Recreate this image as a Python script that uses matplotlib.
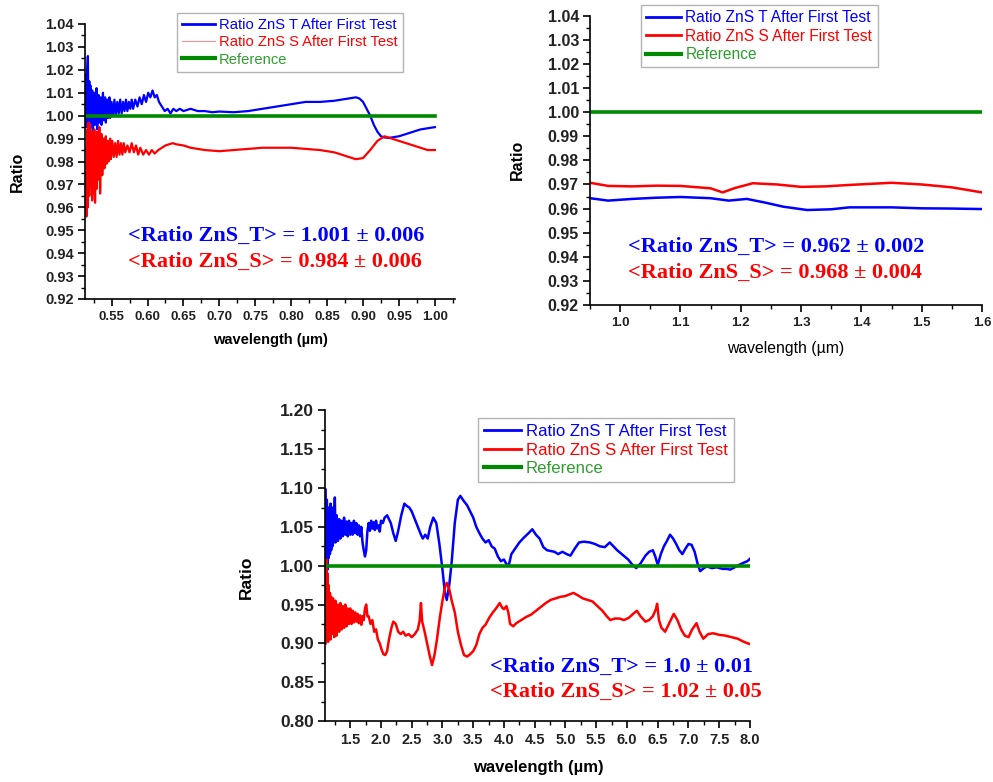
import matplotlib.pyplot as plt
from matplotlib.ticker import MultipleLocator, FormatStrFormatter

plt.rcParams['font.family'] = ['Liberation Sans', 'DejaVu Sans']

BLUE = '#0000ff'
RED = '#ff0000'
GREEN = '#008a00'

LABEL_T = 'Ratio ZnS T After First Test'
LABEL_S = 'Ratio ZnS S After First Test'
LABEL_REF = 'Reference'

# ---- panel 1 : 0.51 - 1.00 um ----
vis_t_x = [0.514, 0.515, 0.516, 0.517, 0.518, 0.519, 0.520, 0.521, 0.522, 0.523,
           0.524, 0.526, 0.527, 0.529, 0.530, 0.532, 0.533, 0.535, 0.536, 0.538,
           0.539, 0.541, 0.542, 0.544, 0.545, 0.547, 0.548, 0.550, 0.552, 0.554,
           0.556, 0.558, 0.560, 0.562, 0.564, 0.566, 0.568, 0.570, 0.572, 0.574,
           0.576, 0.578, 0.580, 0.583, 0.586, 0.589, 0.592, 0.595, 0.598, 0.601,
           0.604, 0.607, 0.610, 0.613, 0.616, 0.620, 0.624, 0.628, 0.632, 0.636,
           0.640, 0.645, 0.650, 0.660, 0.670, 0.680, 0.690, 0.700, 0.720, 0.740,
           0.760, 0.780, 0.800, 0.820, 0.840, 0.860, 0.880, 0.890, 0.895, 0.900,
           0.905, 0.910, 0.915, 0.920, 0.925, 0.930, 0.935, 0.940, 0.950, 0.960,
           0.970, 0.980, 0.990, 1.000]
vis_t_y = [1.018, 0.995, 1.020, 1.026, 0.992, 1.015, 0.990, 1.013, 0.995, 1.011,
           0.992, 1.010, 0.996, 1.012, 0.994, 1.009, 0.997, 1.008, 0.996, 1.010,
           0.998, 1.008, 0.997, 1.007, 0.999, 1.008, 0.999, 1.006, 1.000, 1.007,
           1.000, 1.006, 1.001, 1.007, 1.001, 1.006, 1.002, 1.007, 1.002, 1.006,
           1.003, 1.007, 1.003, 1.007, 1.004, 1.008, 1.005, 1.009, 1.006, 1.010,
           1.008, 1.011, 1.008, 1.009, 1.006, 1.004, 1.002, 1.003, 1.001, 1.003,
           1.002, 1.003, 1.002, 1.003, 1.002, 1.002, 1.0015, 1.0018, 1.0015, 1.002,
           1.003, 1.004, 1.005, 1.006, 1.006, 1.0065, 1.0075, 1.008, 1.0075, 1.006,
           1.003, 1.000, 0.996, 0.993, 0.991, 0.9905, 0.9903, 0.9905, 0.991, 0.992,
           0.993, 0.994, 0.9945, 0.995]

vis_s_x = [0.514, 0.515, 0.516, 0.517, 0.518, 0.519, 0.520, 0.521, 0.522, 0.523,
           0.524, 0.525, 0.526, 0.527, 0.528, 0.529, 0.530, 0.531, 0.533, 0.534,
           0.536, 0.537, 0.539, 0.540, 0.542, 0.543, 0.545, 0.546, 0.548, 0.549,
           0.551, 0.553, 0.555, 0.557, 0.559, 0.561, 0.563, 0.565, 0.567, 0.569,
           0.572, 0.575, 0.578, 0.581, 0.584, 0.587, 0.590, 0.594, 0.598, 0.602,
           0.606, 0.610, 0.615, 0.620, 0.625, 0.630, 0.635, 0.640, 0.650, 0.660,
           0.670, 0.680, 0.700, 0.720, 0.740, 0.760, 0.780, 0.800, 0.820, 0.840,
           0.860, 0.875, 0.890, 0.900, 0.910, 0.920, 0.930, 0.940, 0.950, 0.960,
           0.970, 0.980, 0.990, 1.000]
vis_s_y = [0.975, 0.956, 0.994, 0.960, 0.997, 0.965, 0.996, 0.970, 0.992, 0.963,
           0.993, 0.966, 0.994, 0.962, 0.991, 0.968, 0.993, 0.972, 0.995, 0.966,
           0.992, 0.974, 0.990, 0.977, 0.991, 0.979, 0.989, 0.980, 0.990, 0.981,
           0.989, 0.982, 0.988, 0.982, 0.989, 0.983, 0.988, 0.983, 0.988, 0.984,
           0.987, 0.984, 0.988, 0.984, 0.987, 0.983, 0.986, 0.983, 0.985, 0.983,
           0.985, 0.9835, 0.985, 0.986, 0.987, 0.9875, 0.988, 0.9875, 0.987, 0.986,
           0.9855, 0.985, 0.9845, 0.985, 0.9855, 0.986, 0.986, 0.986, 0.9855, 0.985,
           0.984, 0.9825, 0.981, 0.9815, 0.985, 0.989, 0.991, 0.990, 0.989, 0.988,
           0.987, 0.986, 0.985, 0.985]

vis_ref_x = [0.514, 1.000]
vis_ref_y = [1.0, 1.0]

# ---- panel 2 : 0.95 - 1.6 um ----
nir_t_x = [0.95, 0.98, 1.02, 1.06, 1.10, 1.15, 1.18, 1.21, 1.24, 1.27,
           1.31, 1.35, 1.38, 1.45, 1.50, 1.55, 1.60]
nir_t_y = [0.9643, 0.9633, 0.9640, 0.9645, 0.9648, 0.9643, 0.9633, 0.9640, 0.9625, 0.9608,
           0.9594, 0.9597, 0.9605, 0.9605, 0.9601, 0.9600, 0.9598]

nir_s_x = [0.95, 0.98, 1.02, 1.06, 1.10, 1.15, 1.17, 1.19, 1.22, 1.26,
           1.30, 1.34, 1.38, 1.45, 1.50, 1.55, 1.60]
nir_s_y = [0.9707, 0.9694, 0.9692, 0.9695, 0.9694, 0.9684, 0.9667, 0.9685, 0.9705, 0.9700,
           0.9690, 0.9692, 0.9698, 0.9707, 0.9700, 0.9688, 0.9667]

nir_ref_x = [0.95, 1.60]
nir_ref_y = [1.0, 1.0]

# ---- panel 3 : 1.1 - 8.0 um ----
mir_t_x = [1.10, 1.11, 1.12, 1.13, 1.14, 1.15, 1.16, 1.17, 1.18, 1.19,
           1.20, 1.21, 1.22, 1.23, 1.24, 1.25, 1.26, 1.28, 1.30, 1.32,
           1.34, 1.36, 1.38, 1.40, 1.42, 1.44, 1.46, 1.48, 1.50, 1.52,
           1.54, 1.56, 1.58, 1.60, 1.62, 1.64, 1.66, 1.68, 1.70, 1.72,
           1.74, 1.76, 1.78, 1.80, 1.82, 1.84, 1.86, 1.88, 1.90, 1.92,
           1.94, 1.96, 1.98, 2.00, 2.03, 2.06, 2.10, 2.13, 2.16, 2.20,
           2.24, 2.28, 2.33, 2.38, 2.42, 2.46, 2.50, 2.55, 2.60, 2.65,
           2.68, 2.72, 2.76, 2.80, 2.85, 2.90, 2.95, 3.00, 3.04, 3.07,
           3.11, 3.15, 3.20, 3.25, 3.29, 3.35, 3.40, 3.45, 3.50, 3.55,
           3.60, 3.65, 3.70, 3.75, 3.80, 3.85, 3.90, 3.95, 4.00, 4.04,
           4.08, 4.12, 4.18, 4.25, 4.32, 4.40, 4.46, 4.52, 4.58, 4.64,
           4.70, 4.76, 4.82, 4.88, 4.95, 5.02, 5.08, 5.15, 5.22, 5.30,
           5.40, 5.48, 5.56, 5.64, 5.72, 5.78, 5.84, 5.90, 5.96, 6.02,
           6.08, 6.15, 6.22, 6.30, 6.36, 6.42, 6.46, 6.50, 6.55, 6.60,
           6.65, 6.70, 6.75, 6.80, 6.85, 6.90, 6.95, 7.00, 7.05, 7.10,
           7.15, 7.19, 7.25, 7.30, 7.38, 7.46, 7.55, 7.62, 7.68, 7.75,
           7.82, 7.90, 7.96, 8.00]
mir_t_y = [1.098, 1.000, 1.085, 0.995, 1.075, 1.010, 1.070, 1.015, 1.080, 1.020,
           1.065, 1.025, 1.075, 1.030, 1.060, 1.088, 1.030, 1.065, 1.032, 1.060,
           1.035, 1.058, 1.038, 1.062, 1.040, 1.057, 1.038, 1.058, 1.040, 1.055,
           1.040, 1.058, 1.042, 1.055, 1.040, 1.052, 1.038, 1.050, 1.030, 1.020,
           1.012, 1.020, 1.045, 1.055, 1.045, 1.058, 1.048, 1.056, 1.046, 1.058,
           1.048, 1.052, 1.044, 1.058, 1.055, 1.062, 1.065, 1.060, 1.055, 1.042,
           1.032, 1.045, 1.065, 1.080, 1.077, 1.075, 1.070, 1.060, 1.050, 1.040,
           1.035, 1.040, 1.035, 1.050, 1.062, 1.055, 1.028, 0.995, 0.965, 0.956,
           0.975, 1.005, 1.055, 1.085, 1.090, 1.083, 1.078, 1.070, 1.062, 1.050,
           1.042, 1.035, 1.030, 1.033, 1.025, 1.022, 1.012, 1.006, 1.008, 1.002,
           1.001, 1.015, 1.022, 1.030, 1.036, 1.042, 1.047, 1.040, 1.035, 1.024,
           1.020, 1.019, 1.018, 1.015, 1.018, 1.015, 1.013, 1.022, 1.030, 1.031,
           1.030, 1.028, 1.025, 1.024, 1.030, 1.025, 1.020, 1.016, 1.012, 1.008,
           1.002, 0.997, 1.003, 1.013, 1.018, 1.020, 1.012, 1.001, 1.015, 1.025,
           1.032, 1.040, 1.035, 1.028, 1.020, 1.015, 1.022, 1.028, 1.027, 1.018,
           1.002, 0.993, 0.997, 0.999, 0.997, 0.998, 0.996, 0.996, 0.995, 0.998,
           1.001, 1.004, 1.006, 1.009]

mir_s_x = [1.10, 1.11, 1.12, 1.13, 1.14, 1.15, 1.16, 1.17, 1.18, 1.19,
           1.20, 1.22, 1.24, 1.26, 1.28, 1.30, 1.32, 1.34, 1.36, 1.38,
           1.40, 1.42, 1.44, 1.46, 1.48, 1.50, 1.52, 1.54, 1.56, 1.58,
           1.60, 1.62, 1.64, 1.66, 1.68, 1.70, 1.72, 1.74, 1.76, 1.78,
           1.80, 1.83, 1.86, 1.89, 1.92, 1.95, 1.98, 2.01, 2.04, 2.07,
           2.10, 2.13, 2.17, 2.20, 2.24, 2.28, 2.32, 2.36, 2.40, 2.45,
           2.50, 2.55, 2.60, 2.63, 2.65, 2.67, 2.71, 2.75, 2.79, 2.83,
           2.87, 2.91, 2.96, 3.00, 3.04, 3.07, 3.11, 3.15, 3.20, 3.25,
           3.30, 3.35, 3.40, 3.45, 3.50, 3.55, 3.60, 3.65, 3.70, 3.76,
           3.82, 3.88, 3.93, 3.97, 4.00, 4.04, 4.07, 4.10, 4.15, 4.20,
           4.28, 4.36, 4.44, 4.52, 4.60, 4.68, 4.76, 4.84, 4.92, 5.00,
           5.06, 5.13, 5.20, 5.28, 5.36, 5.44, 5.52, 5.60, 5.67, 5.73,
           5.80, 5.88, 5.95, 6.03, 6.10, 6.16, 6.22, 6.30, 6.36, 6.42,
           6.47, 6.49, 6.52, 6.56, 6.62, 6.68, 6.76, 6.82, 6.88, 6.94,
           7.00, 7.06, 7.13, 7.18, 7.24, 7.32, 7.40, 7.50, 7.60, 7.70,
           7.80, 7.90, 8.00]
mir_s_y = [0.900, 1.008, 0.905, 0.990, 0.902, 0.975, 0.910, 0.965, 0.905, 0.960,
           0.912, 0.958, 0.908, 0.955, 0.910, 0.950, 0.915, 0.952, 0.918, 0.948,
           0.920, 0.950, 0.922, 0.945, 0.925, 0.945, 0.925, 0.942, 0.927, 0.940,
           0.928, 0.938, 0.926, 0.936, 0.924, 0.935, 0.930, 0.945, 0.950, 0.935,
           0.935, 0.925, 0.930, 0.915, 0.918, 0.905, 0.900, 0.892, 0.886, 0.885,
           0.890, 0.905, 0.920, 0.928, 0.925, 0.915, 0.912, 0.915, 0.910, 0.912,
           0.908, 0.912, 0.918, 0.930, 0.952, 0.928, 0.915, 0.900, 0.885, 0.872,
           0.885, 0.905, 0.935, 0.955, 0.972, 0.978, 0.970, 0.955, 0.940, 0.915,
           0.898, 0.885, 0.883, 0.886, 0.890, 0.898, 0.912, 0.920, 0.924, 0.933,
           0.940, 0.946, 0.952, 0.946, 0.944, 0.948, 0.940, 0.925, 0.922, 0.926,
           0.930, 0.934, 0.937, 0.942, 0.947, 0.952, 0.956, 0.958, 0.960, 0.961,
           0.963, 0.965, 0.962, 0.958, 0.956, 0.954, 0.948, 0.942, 0.935, 0.930,
           0.932, 0.932, 0.930, 0.933, 0.938, 0.942, 0.935, 0.928, 0.930, 0.935,
           0.944, 0.951, 0.930, 0.920, 0.915, 0.925, 0.938, 0.930, 0.918, 0.910,
           0.908, 0.918, 0.926, 0.915, 0.906, 0.912, 0.913, 0.911, 0.910, 0.908,
           0.906, 0.902, 0.899]

mir_ref_x = [1.10, 8.00]
mir_ref_y = [1.0, 1.0]

W, H = 993, 782


def style_axes(ax, xlim, ylim, xmaj, xmin, ymaj, ymin, xfmt, xfs, yfs):
    ax.set_xlim(*xlim)
    ax.set_ylim(*ylim)
    ax.spines['top'].set_visible(False)
    ax.spines['right'].set_visible(False)
    for s in ('left', 'bottom'):
        ax.spines[s].set_linewidth(1.2)
    ax.xaxis.set_major_locator(MultipleLocator(xmaj))
    ax.xaxis.set_minor_locator(MultipleLocator(xmin))
    ax.yaxis.set_major_locator(MultipleLocator(ymaj))
    ax.yaxis.set_minor_locator(MultipleLocator(ymin))
    ax.xaxis.set_major_formatter(FormatStrFormatter(xfmt))
    ax.yaxis.set_major_formatter(FormatStrFormatter('%.2f'))
    ax.tick_params(which='major', direction='out', length=5, width=1.2)
    ax.tick_params(which='minor', direction='out', length=3, width=1.0)
    ax.tick_params(axis='x', labelsize=xfs, pad=4)
    ax.tick_params(axis='y', labelsize=yfs, pad=3)
    for lab in ax.get_xticklabels() + ax.get_yticklabels():
        lab.set_fontweight('bold')
        lab.set_color('#222222')


def add_legend(ax, anchor, fs):
    leg = ax.legend(loc='upper left', bbox_to_anchor=anchor, bbox_transform=fig.transFigure,
                    fontsize=fs, frameon=True, fancybox=False, borderaxespad=0,
                    handlelength=2.2, handletextpad=0.3, labelspacing=0.22,
                    borderpad=0.35)
    leg.get_frame().set_edgecolor('#a0a0a0')
    leg.get_frame().set_linewidth(1.0)
    for txt, c in zip(leg.get_texts(), [BLUE, RED, '#2e9e2e']):
        txt.set_color(c)
    for ln, lw in zip(leg.get_lines(), [2.0, 2.0, 3.0]):
        ln.set_linewidth(lw)
    return leg


def add_means(ax, pos1, pos2, line1, line2):
    ax.text(pos1[0], pos1[1], line1, transform=ax.transAxes, color=BLUE, fontsize=16,
            fontweight='bold', family=['Liberation Serif', 'DejaVu Serif'], va='center')
    ax.text(pos2[0], pos2[1], line2, transform=ax.transAxes, color=RED, fontsize=16,
            fontweight='bold', family=['Liberation Serif', 'DejaVu Serif'], va='center')


def axes_rect(x0, x1, ytop, ybot):
    return [x0 / W, 1 - ybot / H, (x1 - x0) / W, (ybot - ytop) / H]


fig = plt.figure(figsize=(W / 100, H / 100), dpi=100)

# panel 1
ax1 = fig.add_axes(axes_rect(85, 455, 24, 299))
ax1.plot(vis_t_x, vis_t_y, color=BLUE, lw=1.6, label=LABEL_T)
ax1.plot(vis_s_x, vis_s_y, color=RED, lw=1.6, label=LABEL_S)
ax1.plot(vis_ref_x, vis_ref_y, color=GREEN, lw=2.6, label=LABEL_REF)
style_axes(ax1, (0.513, 1.028), (0.92, 1.04), 0.05, 0.025, 0.01, 0.005, '%.2f', 9.5, 10.5)
ax1.set_ylabel('Ratio', fontsize=11.5, fontweight='bold')
ax1.set_xlabel('wavelength (µm)', fontsize=10.5, fontweight='bold')
ax1.yaxis.set_label_coords(-0.184, 0.462)
ax1.yaxis.label.set_va('center')
ax1.xaxis.set_label_coords(0.5, -0.149)
ax1.xaxis.label.set_va('center')
leg1 = add_legend(ax1, (177 / W, 1 - 13 / H), 10.6)
leg1.get_lines()[1].set_linewidth(0.8)
leg1.get_lines()[1].set_color('#ff9090')
add_means(ax1, (0.116, 0.229), (0.116, 0.135),
          '<Ratio ZnS_T> = 1.001 ± 0.006', '<Ratio ZnS_S> = 0.984 ± 0.006')

# panel 2
ax2 = fig.add_axes(axes_rect(590, 982, 15.7, 305))
ax2.plot(nir_t_x, nir_t_y, color=BLUE, lw=1.8, label=LABEL_T)
ax2.plot(nir_s_x, nir_s_y, color=RED, lw=1.8, label=LABEL_S)
ax2.plot(nir_ref_x, nir_ref_y, color=GREEN, lw=2.6, label=LABEL_REF)
style_axes(ax2, (0.95, 1.6), (0.92, 1.04), 0.1, 0.05, 0.01, 0.005, '%.1f', 9.5, 11.5)
ax2.set_ylabel('Ratio', fontsize=11.5, fontweight='bold')
ax2.set_xlabel('wavelength (µm)', fontsize=11.3)
ax2.yaxis.set_label_coords(-0.186, 0.501)
ax2.yaxis.label.set_va('center')
ax2.xaxis.set_label_coords(0.5, -0.149)
ax2.xaxis.label.set_va('center')
add_legend(ax2, (641 / W, 1 - 4.7 / H), 11.2)
add_means(ax2, (0.097, 0.200), (0.097, 0.111),
          '<Ratio ZnS_T> = 0.962 ± 0.002', '<Ratio ZnS_S> = 0.968 ± 0.004')

# panel 3
ax3 = fig.add_axes(axes_rect(325, 750, 410.5, 721))
ax3.plot(mir_t_x, mir_t_y, color=BLUE, lw=1.8, label=LABEL_T)
ax3.plot(mir_s_x, mir_s_y, color=RED, lw=1.8, label=LABEL_S)
ax3.plot(mir_ref_x, mir_ref_y, color=GREEN, lw=2.6, label=LABEL_REF)
style_axes(ax3, (1.09, 8.0), (0.80, 1.20), 0.5, 0.25, 0.05, 0.025, '%.1f', 10.5, 12.5)
ax3.set_ylabel('Ratio', fontsize=12.5, fontweight='bold')
ax3.set_xlabel('wavelength (µm)', fontsize=12, fontweight='bold')
ax3.yaxis.set_label_coords(-0.186, 0.464)
ax3.yaxis.label.set_va('center')
ax3.xaxis.set_label_coords(0.501, -0.151)
ax3.xaxis.label.set_va('center')
add_legend(ax3, (478 / W, 1 - 418 / H), 12.1)
add_means(ax3, (0.388, 0.174), (0.388, 0.093),
          '<Ratio ZnS_T> = 1.0 ± 0.01', '<Ratio ZnS_S> = 1.02 ± 0.05')

fig.savefig('out.png', dpi=100)
